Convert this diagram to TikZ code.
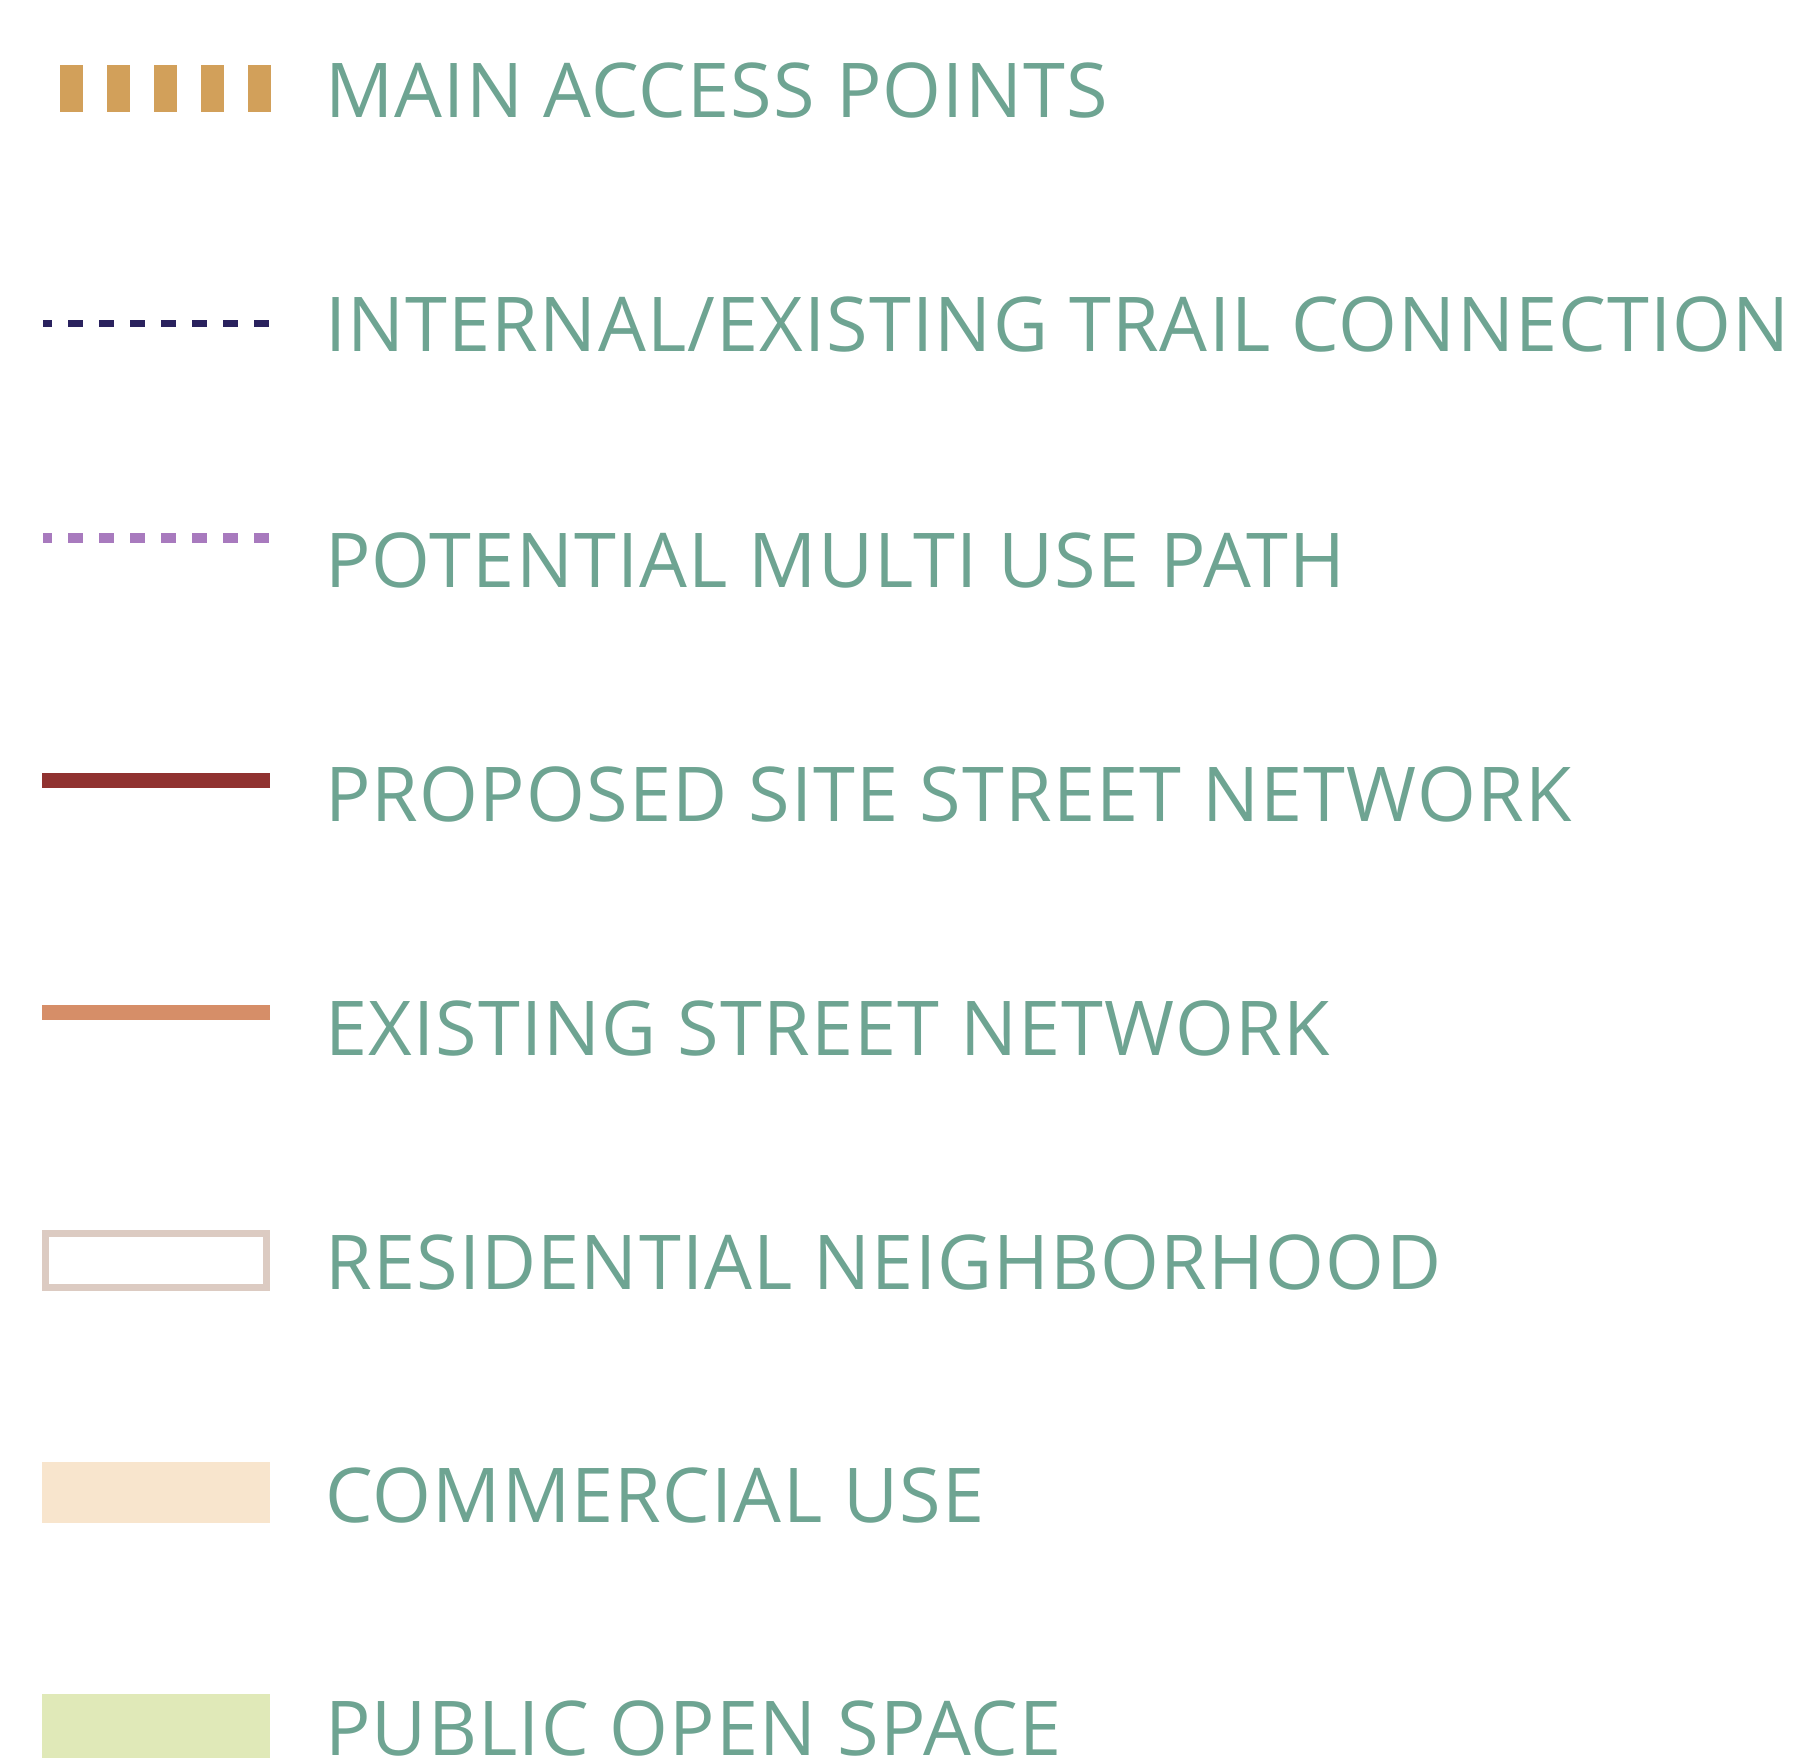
\documentclass[tikz,border=0pt]{standalone}
\usepackage{fontspec}
\usepackage{xcolor}
\usetikzlibrary{positioning}
\newfontfamily\legendfont[LetterSpace=1.6]{Open Sans}
\definecolor{labelgreen}{RGB}{110,164,146}
\definecolor{accessgold}{RGB}{210,160,90}
\definecolor{trailnavy}{RGB}{42,34,94}
\definecolor{pathpurple}{RGB}{168,122,190}
\definecolor{sitered}{RGB}{144,50,48}
\definecolor{streetorange}{RGB}{214,142,104}
\definecolor{resiborder}{RGB}{220,203,194}
\definecolor{commercial}{RGB}{248,229,205}
\definecolor{openspace}{RGB}{224,233,184}

\begin{document}
\begin{tikzpicture}[x=1pt, y=-1pt,
    legtext/.style={anchor=base west, inner sep=0pt, text=labelgreen,
                    font=\legendfont\fontsize{75.6}{80}\selectfont},
    dashline/.style={dash pattern=on 15pt off 16pt, dash phase=6pt}
  ]
    \useasboundingbox (0,0) rectangle (1816,1764);

    % access points: row of blocks
    \foreach \k in {0,...,4}
      \fill[accessgold] (60+47*\k,65) rectangle ++(23,47);
    \node[legtext] (lbl1) at (325,117) {MAIN ACCESS POINTS};

    % trail connection
    \draw[trailnavy, line width=7pt, dashline] (43,323) -- (271,323);
    \node[legtext] (lbl2) at (325,351) {INTERNAL/EXISTING TRAIL CONNECTION};

    % multi use path
    \draw[pathpurple, line width=10pt, dashline] (43,538) -- (271,538);
    \node[legtext] (lbl3) at (325,587) {POTENTIAL MULTI USE PATH};

    % street networks
    \draw[sitered, line width=15pt] (42,780) -- (270,780);
    \node[legtext] (lbl4) at (325,821) {PROPOSED SITE STREET NETWORK};
    \draw[streetorange, line width=15pt] (42,1012) -- (270,1012);
    \node[legtext] (lbl5) at (325,1055) {EXISTING STREET NETWORK};

    % land use swatches
    \draw[resiborder, line width=7pt] (45.5,1233.5) rectangle (266.5,1287.5);
    \node[legtext] (lbl6) at (325,1289) {RESIDENTIAL NEIGHBORHOOD};
    \fill[commercial] (42,1462) rectangle (270,1523);
    \node[legtext] (lbl7) at (325,1522) {COMMERCIAL USE};
    \fill[openspace] (42,1694) rectangle (270,1758);
    \node[legtext] (lbl8) at (325,1755) {PUBLIC OPEN SPACE};
\end{tikzpicture}
\end{document}
